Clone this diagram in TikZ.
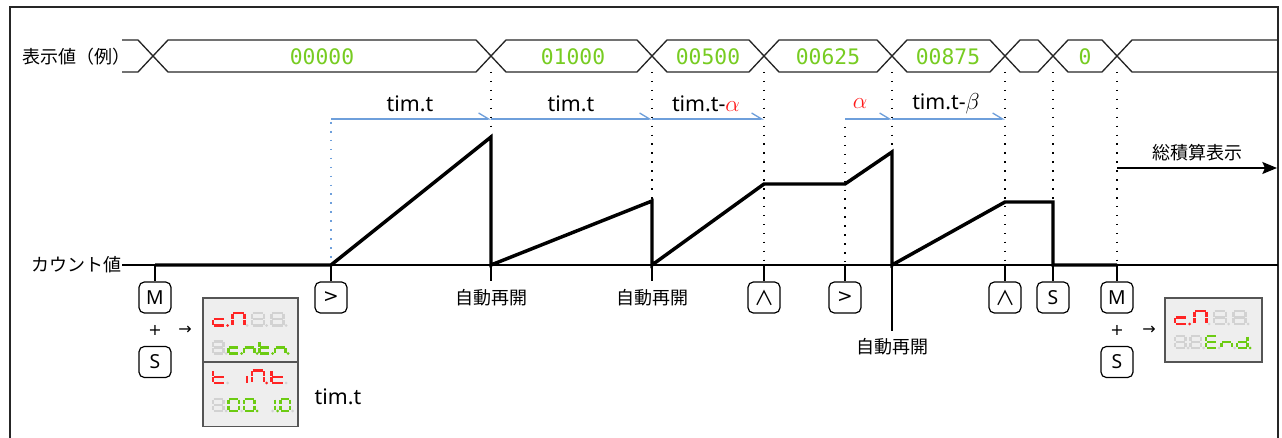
\documentclass[tikz,border=0pt]{standalone}
\usepackage{fontspec}
\setmainfont{Noto Sans CJK JP}
\newfontfamily\latf{Noto Sans}
\newfontfamily\djv{DejaVu Sans}
\newfontfamily\monof{DejaVu Sans Mono}
\usetikzlibrary{arrows.meta}
\definecolor{spanblue}{HTML}{6E9FDB}
\definecolor{lcdgreen}{HTML}{6CCB12}
\definecolor{lcdred}{HTML}{FF2424}
\definecolor{lcdgray}{HTML}{D2D2D2}
\definecolor{panelbg}{HTML}{EEEEEE}
\definecolor{panelframe}{HTML}{555555}
\definecolor{busgreen}{HTML}{77CC22}
\definecolor{alphared}{HTML}{FF1A1A}
% seven-segment helpers
\newcommand\SgW{10}\newcommand\SgH{12}\newcommand\SgC{lcdgray}
\newcommand\sga{\draw[sgline,draw=\SgC] (0.7,0) -- (\SgW-0.7,0);}
\newcommand\sgb{\draw[sgline,draw=\SgC] (\SgW,0.7) -- (\SgW,\SgH/2-0.7);}
\newcommand\sgc{\draw[sgline,draw=\SgC] (\SgW,\SgH/2+0.7) -- (\SgW,\SgH-0.7);}
\newcommand\sgd{\draw[sgline,draw=\SgC] (0.7,\SgH) -- (\SgW-0.7,\SgH);}
\newcommand\sge{\draw[sgline,draw=\SgC] (0,\SgH/2+0.7) -- (0,\SgH-0.7);}
\newcommand\sgf{\draw[sgline,draw=\SgC] (0,0.7) -- (0,\SgH/2-0.7);}
\newcommand\sgg{\draw[sgline,draw=\SgC] (0.7,\SgH/2) -- (\SgW-0.7,\SgH/2);}
\newcommand\sgx{}
\newcommand\lcddigit[7]{%
  \begin{scope}[shift={(#1,#2)}]
  \def\SgW{#3}\def\SgH{#4}\def\SgC{#5}%
  \foreach \s in {#6}{\csname sg\s\endcsname}%
  \fill[fill=#7] (#3+2.6,#4) circle (1.05pt);
  \end{scope}}
\begin{document}
\begin{tikzpicture}[x=0.75pt,y=-0.75pt,
  sgline/.style={line width=1.8pt,line cap=butt},
  jp/.style={font=\fontsize{13.5}{16}\selectfont,inner sep=1pt},
  lat/.style={font=\latf\fontsize{16}{18}\selectfont,inner sep=1pt},
  busval/.style={font=\monof\fontsize{16}{17}\selectfont,text=busgreen,inner sep=0pt},
  bus/.style={line width=1pt,draw=black!85,line join=miter},
  axisline/.style={line width=1.1pt,draw=black},
  wave/.style={line width=2.6pt,draw=black,line join=miter},
  guide/.style={line width=1.1pt,draw=black,dash pattern=on 1.1pt off 5.6pt},
  blueguide/.style={line width=1.2pt,draw=spanblue,dash pattern=on 1.2pt off 5.5pt},
  span/.style={draw=spanblue,line width=1pt,-{Straight Barb[left,length=7.5pt,width=9pt]}},
  tick/.style={line width=1pt,draw=black},
  keybox/.style={draw,line width=0.9pt,rounded corners=4pt,minimum width=24pt,minimum height=23.25pt,inner sep=0pt,font=\latf\fontsize{14.5}{15}\selectfont},
  keysym/.style={keybox,font=\djv\fontsize{14}{15}\selectfont},
  keywedge/.style={keybox,font=\fontsize{15}{16}\selectfont},
  small/.style={font=\djv\fontsize{12}{13}\selectfont,inner sep=0pt},
  panelbox/.style={draw=panelframe,fill=panelbg,line width=1.1pt,inner sep=0pt,minimum width=71.25pt,minimum height=48pt}
]
\useasboundingbox (0,0) rectangle (1282,438);
% frame
\draw[line width=1.2pt,draw=black!85] (10,460) -- (10,7) -- (1278,7) -- (1278,460);

% ---------- bus (display values) ----------
\node[jp,anchor=west] (lblbus) at (21,57) {表示値（例）};
\draw[bus] (122,40) -- (138,40) -- (153,56) -- (138,72) -- (122,72);
\foreach \a/\b in {153/491,491/652,652/764,764/892,892/1005,1005/1053,1053/1117}
  \draw[bus] (\a,56) -- (\a+15,40) -- (\b-15,40) -- (\b,56) -- (\b-15,72) -- (\a+15,72) -- cycle;
\draw[bus] (1278,40) -- (1132,40) -- (1117,56) -- (1132,72) -- (1278,72);
\node[busval] (v0) at (322,56.5) {00000};
\node[busval] (v1) at (573,56.5) {01000};
\node[busval] (v2) at (708,56.5) {00500};
\node[busval] (v3) at (828,56.5) {00625};
\node[busval] (v4) at (948,56.5) {00875};
\node[busval] (v5) at (1085,56.5) {0};

% ---------- spans ----------
\coordinate (s0) at (331,119);
\coordinate (s1) at (491,119);
\coordinate (s2) at (652,119);
\coordinate (s3) at (764,119);
\coordinate (s4) at (845,119);
\coordinate (s5) at (892,119);
\coordinate (s6) at (1005,119);
\draw[span] (s0) -- (s1);
\draw[span] (s1) -- (s2);
\draw[span] (s2) -- (s3);
\draw[span] (s4) -- (s5);
\draw[span] (s5) -- (s6);
\node[lat] (l0) at (410,104) {tim.t};
\node[lat] (l1) at (571,104) {tim.t};
\node[lat] (l2) at (706,104) {tim.t-{\color{alphared}$\alpha$}};
\node[lat] (l3) at (860,104) {\color{alphared}$\alpha$};
\node[lat] (l4) at (946,104) {tim.t-$\beta$};

% ---------- count axis ----------
\node[jp,anchor=west] (lblcnt) at (30,265) {カウント値};
\coordinate (ax0) at (122,265);
\coordinate (ax1) at (1278,265);
\draw[axisline] (ax0) -- (ax1);

% waveform points
\coordinate (w0) at (155,265);
\coordinate (w1) at (331,265);
\coordinate (w2) at (491,137);
\coordinate (w3) at (491,265);
\coordinate (w4) at (652,201);
\coordinate (w5) at (652,265);
\coordinate (w6) at (764,184);
\coordinate (w7) at (845,184);
\coordinate (w8) at (892,152);
\coordinate (w9) at (892,265);
\coordinate (w10) at (1005,202);
\coordinate (w11) at (1053,202);
\coordinate (w12) at (1053,265);
\coordinate (w13) at (1117,265);

% guides
\coordinate (g1) at (491,72);
\coordinate (g2) at (652,72);
\coordinate (g3) at (764,72);
\coordinate (g4) at (845,127);
\coordinate (g5) at (892,72);
\coordinate (g6) at (1005,72);
\coordinate (g7) at (1053,72);
\coordinate (g8) at (1117,72);
\coordinate (gb) at (331,122);
\coordinate (k764) at (764,265);
\coordinate (k845) at (845,265);
\coordinate (k1005) at (1005,265);
\draw[guide] (g1) -- (w2);
\draw[guide] (g2) -- (w4);
\draw[guide] (g3) -- (k764);
\draw[guide] (g4) -- (k845);
\draw[guide] (g5) -- (w8);
\draw[guide] (g6) -- (k1005);
\draw[guide] (g7) -- (w11);
\draw[guide] (g8) -- (w13);
\draw[blueguide] (gb) -- (w1);

\draw[wave] (w0) -- (w1) -- (w2) -- (w3) -- (w4) -- (w5) -- (w6) -- (w7) -- (w8) -- (w9) -- (w10) -- (w11) -- (w12) -- (w13);

% total display arrow
\coordinate (tot0) at (1117,168);
\coordinate (tot1) at (1277,168);
\draw[line width=1.1pt,-{Stealth[length=11pt,width=9pt,inset=2pt]}] (tot0) -- (tot1);
\node[jp] (lbltot) at (1197,153) {総積算表示};

% ---------- keys ----------
\node[keybox] (kM1) at (155,297.5) {M};
\node[small] (pl1) at (155,330) {+};
\node[small] (ar1) at (185,330) {→};
\node[keybox] (kS1) at (155,362) {S};
\node[keysym] (kR1) at (331,297.5) {>};
\node[keywedge] (kU1) at (764,297.5) {∧};
\node[keysym] (kR2) at (845,297.5) {>};
\node[keywedge] (kU2) at (1005,297.5) {∧};
\node[keybox] (kS2) at (1053,297.5) {S};
\node[keybox] (kM2) at (1117,297.5) {M};
\node[small] (pl2) at (1117,330) {+};
\node[small] (ar2) at (1149,330) {→};
\node[keybox] (kS3) at (1117,362) {S};
\draw[tick] (w0) -- (kM1);
\draw[tick] (w1) -- (kR1);
\draw[tick] (k764) -- (kU1);
\draw[tick] (k845) -- (kR2);
\draw[tick] (k1005) -- (kU2);
\draw[tick] (w12) -- (kS2);
\draw[tick] (w13) -- (kM2);

% auto restart labels
\node[jp] (re1) at (491,298) {自動再開};
\node[jp] (re2) at (652,298) {自動再開};
\node[jp] (re3) at (892,347) {自動再開};
\coordinate (re1t) at (491,281);
\coordinate (re2t) at (652,281);
\coordinate (re3t) at (892,331);
\draw[tick] (w3) -- (re1t);
\draw[tick] (w5) -- (re2t);
\draw[tick] (w9) -- (re3t);

% ---------- LCD panels ----------
\node[panelbox] (pan1a) at (250.5,330) {};
\node[panelbox] (pan1b) at (250.5,394.5) {};
\node[panelbox,minimum width=72.75pt] (pan2) at (1213.5,330) {};
\node[lat] (ltim) at (338,397) {tim.t};

% panel 1, row 1
\lcddigit{213}{313}{12}{12.5}{lcdred}{d,e,g}{lcdred}
\lcddigit{232.5}{313}{12}{12.5}{lcdred}{a,b,c,e,f}{lcdgray}
\lcddigit{252}{313}{12}{12.5}{lcdgray}{a,b,c,d,e,f,g}{lcdgray}
\lcddigit{271.5}{313}{12}{12.5}{lcdgray}{a,b,c,d,e,f,g}{lcdgray}
% panel 1, row 2
\lcddigit{213}{341.5}{10.5}{12}{lcdgray}{a,b,c,d,e,f,g}{lcdgray}
\lcddigit{228.5}{341.5}{10.5}{12}{lcdgreen}{d,e,g}{lcdgreen}
\lcddigit{244}{341.5}{10.5}{12}{lcdgreen}{c,e,g}{lcdgreen}
\lcddigit{259.5}{341.5}{10.5}{12}{lcdgreen}{d,e,f,g}{lcdgreen}
\lcddigit{275}{341.5}{10.5}{12}{lcdgreen}{c,e,g}{lcdgreen}
% panel 1, row 3
\lcddigit{213}{370.5}{12}{12.5}{lcdred}{d,e,f,g}{lcdgray}
\draw[sgline,draw=lcdred] (247,376) -- (247,383);
\lcddigit{252}{370.5}{12}{12.5}{lcdred}{a,b,c,e,f}{lcdred}
\lcddigit{271.5}{370.5}{12}{12.5}{lcdred}{d,e,f,g}{lcdgray}
% panel 1, row 4
\lcddigit{213}{399}{10.5}{12}{lcdgray}{a,b,c,d,e,f,g}{lcdgray}
\lcddigit{228.5}{399}{10.5}{12}{lcdgreen}{a,b,c,d,e,f}{lcdgray}
\lcddigit{244}{399}{10.5}{12}{lcdgreen}{a,b,c,d,e,f}{lcdgreen}
\lcddigit{259.5}{399}{10.5}{12}{lcdgray}{x}{lcdgray}
\lcddigit{272}{399}{3}{12}{lcdgreen}{b,c}{lcdgreen}
\lcddigit{280.5}{399}{9.5}{12}{lcdgreen}{a,b,c,d,e,f}{lcdgray}
% panel 2, row 1
\lcddigit{1175}{311}{12}{13}{lcdred}{d,e,g}{lcdred}
\lcddigit{1194.5}{311}{12}{13}{lcdred}{a,b,c,e,f}{lcdgray}
\lcddigit{1214}{311}{12}{13}{lcdgray}{a,b,c,d,e,f,g}{lcdgray}
\lcddigit{1233.5}{311}{12}{13}{lcdgray}{a,b,c,d,e,f,g}{lcdgray}
% panel 2, row 2
\lcddigit{1175}{336}{10.5}{12}{lcdgray}{a,b,c,d,e,f,g}{lcdgray}
\lcddigit{1190.5}{336}{10.5}{12}{lcdgray}{a,b,c,d,e,f,g}{lcdgray}
\lcddigit{1206}{336}{10.5}{12}{lcdgreen}{a,d,e,f,g}{lcdgray}
\lcddigit{1221.5}{336}{10.5}{12}{lcdgreen}{c,e,g}{lcdgray}
\lcddigit{1237}{336}{10.5}{12}{lcdgreen}{b,c,d,e,g}{lcdgreen}
\end{tikzpicture}
\end{document}
